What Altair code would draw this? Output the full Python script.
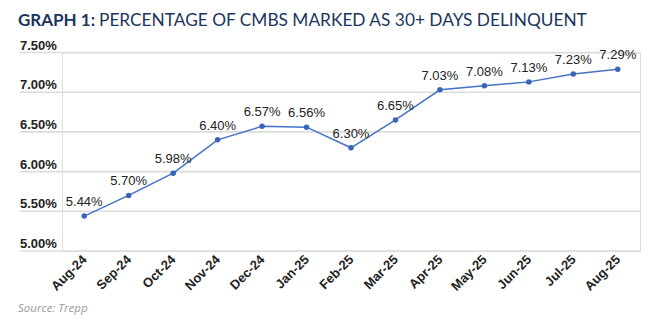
import altair as alt
import pandas as pd

months = ["Aug-24", "Sep-24", "Oct-24", "Nov-24", "Dec-24", "Jan-25", "Feb-25",
          "Mar-25", "Apr-25", "May-25", "Jun-25", "Jul-25", "Aug-25"]
rates = [5.44, 5.70, 5.98, 6.40, 6.57, 6.56, 6.30, 6.65, 7.03, 7.08, 7.13, 7.23, 7.29]
y_ticks = [5.0, 5.5, 6.0, 6.5, 7.0, 7.5]

title_bold = "GRAPH 1:"
title_rest = "PERCENTAGE OF CMBS MARKED AS 30+ DAYS DELINQUENT"
source_text = "Source: Trepp"

df = pd.DataFrame({"month": months, "rate": rates,
                   "label": [f"{v:.2f}%" for v in rates]})
grid_df = pd.DataFrame({"tick": y_ticks,
                        "label": [f"{v:.2f}%" for v in y_ticks]})

x_enc = alt.X("month:N", sort=months, title=None,
              scale=alt.Scale(type="point", padding=0.5),
              axis=alt.Axis(labelAngle=-45, labelAlign="right", labelBaseline="middle",
                            labelPadding=6, ticks=False, domain=False, grid=False,
                            labelOverlap=False,
                            labelFont="Liberation Sans", labelFontWeight="bold",
                            labelFontSize=13, labelColor="#222222"))
y_scale = alt.Scale(domain=[5.0, 7.5], nice=False, zero=False)
y_enc = alt.Y("rate:Q", scale=y_scale, axis=None)

# gridlines and their labels (label sits just above each line, left aligned)
grid = alt.Chart(grid_df).mark_rule(color="#dcdcdc", strokeWidth=1.6).encode(
    y=alt.Y("tick:Q", scale=y_scale, axis=None),
    x=alt.value(-42), x2=alt.value(578))
grid_labels = alt.Chart(grid_df).mark_text(
    font="Liberation Sans", fontSize=13, fontWeight="bold", color="#222222",
    align="left", baseline="alphabetic", dy=-3).encode(
    y=alt.Y("tick:Q", scale=y_scale, axis=None),
    x=alt.value(-42), text="label:N")

base = alt.Chart(df)
line = base.mark_line(color="#4472c4", strokeWidth=1.5).encode(x=x_enc, y=y_enc)
pts = base.mark_circle(color="#3a64b8", size=30, opacity=1).encode(x=x_enc, y=y_enc)
labels = base.mark_text(font="Liberation Sans", fontSize=13, color="#222222",
                        baseline="alphabetic", dy=-10).encode(
    x=x_enc, y=y_enc, text="label:N")

t1 = alt.Chart(pd.DataFrame({"t": [title_bold]})).mark_text(
    font="Lato", fontSize=17, fontWeight="bold", color="#1b365d",
    align="left", baseline="alphabetic").encode(
    x=alt.value(-44), y=alt.value(-27), text="t:N")
t2 = alt.Chart(pd.DataFrame({"t": [title_rest]})).mark_text(
    font="Lato", fontSize=17.3, color="#1b365d",
    align="left", baseline="alphabetic").encode(
    x=alt.value(37), y=alt.value(-27), text="t:N")
src = alt.Chart(pd.DataFrame({"t": [source_text]})).mark_text(
    font="Open Sans", fontSize=11.5, fontStyle="italic", color="#9a9a9a",
    align="left", baseline="alphabetic").encode(
    x=alt.value(-44), y=alt.value(259), text="t:N")

chart = alt.layer(grid, grid_labels, line, pts, labels, t1, t2, src).properties(
    width=578, height=198.5,
    autosize=alt.AutoSizeParams(type="none"),
    padding={"left": 62, "top": 52.5, "right": 22, "bottom": 80},
).configure_view(stroke=None).configure(background="white")

chart.save("out.html", embed_options={"renderer": "svg", "actions": False})
